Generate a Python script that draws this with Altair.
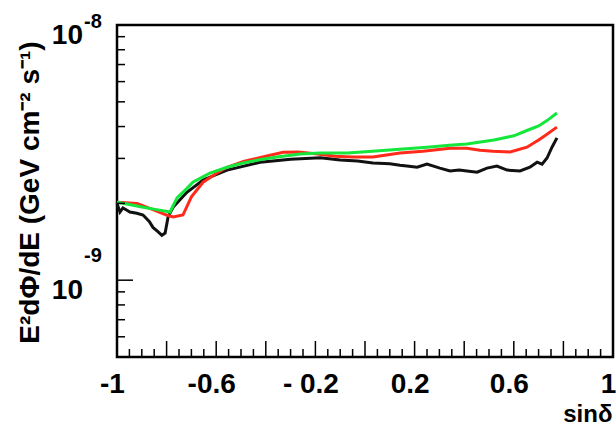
import altair as alt
import pandas as pd

# Sensitivity-style flux curves versus sin(declination).
# Flux values are given in units of 1e-9 GeV cm^-2 s^-1.
FLUX_UNIT = 1e-9

BLACK_S = [-1.0, -0.988, -0.976, -0.96, -0.948, -0.92, -0.895, -0.87, -0.855, -0.835,
           -0.819, -0.806, -0.794, -0.774, -0.718, -0.653, -0.556, -0.423, -0.30, -0.18,
           -0.10, -0.03, 0.032, 0.10, 0.141, 0.169, 0.210, 0.250, 0.302, 0.343,
           0.38, 0.411, 0.452, 0.492, 0.532, 0.573, 0.625, 0.665, 0.694, 0.714,
           0.734, 0.754, 0.774]
BLACK_V = [2.00, 1.85, 1.92, 1.88, 1.85, 1.83, 1.80, 1.70, 1.61, 1.55,
           1.50, 1.53, 1.77, 1.93, 2.21, 2.47, 2.70, 2.90, 2.98, 3.02,
           2.96, 2.93, 2.88, 2.86, 2.82, 2.80, 2.77, 2.85, 2.75, 2.68,
           2.70, 2.68, 2.65, 2.75, 2.80, 2.70, 2.68, 2.77, 2.90, 2.85,
           3.01, 3.32, 3.61]

RED_S = [-1.0, -0.919, -0.86, -0.80, -0.774, -0.734, -0.70, -0.653, -0.597, -0.556,
         -0.49, -0.40, -0.33, -0.27, -0.20, -0.12, -0.05, 0.032, 0.141, 0.234,
         0.343, 0.411, 0.464, 0.516, 0.585, 0.653, 0.70, 0.718, 0.774]
RED_V = [2.02, 2.00, 1.90, 1.80, 1.77, 1.80, 2.12, 2.42, 2.63, 2.77,
         2.92, 3.06, 3.17, 3.18, 3.13, 3.06, 3.04, 3.04, 3.15, 3.20,
         3.29, 3.29, 3.23, 3.20, 3.18, 3.32, 3.54, 3.64, 3.98]

GREEN_S = [-1.0, -0.95, -0.895, -0.84, -0.786, -0.758, -0.72, -0.694, -0.65, -0.625,
           -0.556, -0.492, -0.42, -0.355, -0.26, -0.18, -0.07, 0.03, 0.14, 0.25,
           0.34, 0.41, 0.52, 0.60, 0.653, 0.70, 0.734, 0.774]
GREEN_V = [2.02, 1.98, 1.93, 1.89, 1.85, 2.10, 2.28, 2.42, 2.55, 2.63,
           2.77, 2.88, 2.97, 3.04, 3.12, 3.15, 3.15, 3.20, 3.26, 3.32,
           3.38, 3.42, 3.54, 3.68, 3.86, 4.02, 4.22, 4.52]

# Axis ticks and labels
X_LABEL_VALUES = [-1, -0.6, -0.2, 0.2, 0.6, 1]
X_LABEL_TEXT = ["-1", "-0.6", "- 0.2", "0.2", "0.6", "1"]
X_MAJOR = [-1 + 0.2 * i for i in range(11)]
X_MINOR = [-1 + 0.05 * i for i in range(41) if i % 4 != 0]
Y_MAJOR = [1e-9]
Y_MINOR = [6e-10, 7e-10, 8e-10, 9e-10] + [k * 1e-9 for k in range(2, 10)]
Y_LABEL_VALUES = [1e-9, 1e-8]
Y_LABEL_EXP = ["-9", "-8"]

W, H = 496, 332
FONT = "Liberation Sans"


def curve(s, v):
    return pd.DataFrame({"sindec": s, "flux": [f * FLUX_UNIT for f in v]})


x_scale = alt.Scale(domain=[-1, 1], nice=False, zero=False)
y_scale = alt.Scale(type="log", domain=[5e-10, 1e-8], nice=False)

label_expr = " : ".join(
    f"datum.value == {v} ? '{t}'" for v, t in zip(X_LABEL_VALUES, X_LABEL_TEXT)
) + " : ''"

x_axis = alt.Axis(
    values=X_LABEL_VALUES, labelExpr=label_expr, ticks=False, domain=False, grid=False,
    labelFont=FONT, labelFontSize=28, labelFontWeight="bold", labelColor="black",
    labelPadding=13, labelFlush=False, labelOffset=-5,
    title="sinδ", titleFont=FONT, titleFontSize=24, titleFontWeight="bold",
    titleColor="black", titleAlign="right", titleBaseline="alphabetic",
    titleX=W - 1, titleY=64,
)
y_axis = alt.Axis(
    labels=False, ticks=False, domain=False, grid=False,
    title="E²dΦ/dE (GeV cm⁻² s⁻¹)", titleFont=FONT, titleFontSize=28,
    titleFontWeight="bold", titleColor="black", titleAngle=-90,
    titleAlign="center", titleBaseline="middle", titleX=-87, titleY=167,
)


def X(field):
    return alt.X(field, scale=x_scale, axis=x_axis)


def Y(field):
    return alt.Y(field, scale=y_scale, axis=y_axis)


def line(df, color):
    return alt.Chart(df).mark_line(color=color, strokeWidth=3).encode(
        x=X("sindec:Q"), y=Y("flux:Q")
    )


black = line(curve(BLACK_S, BLACK_V), "#111111")
red = line(curve(RED_S, RED_V), "#ff2a1a")
green = line(curve(GREEN_S, GREEN_V), "#14e63c")


# Inward-pointing ticks along the bottom and left edges of the frame
def xticks(vals, length):
    return alt.Chart(pd.DataFrame({"v": vals})).mark_rule(color="black", strokeWidth=1.5).encode(
        x=X("v:Q"), y=alt.value(H), y2=alt.value(H - length),
    )


def yticks(vals, length):
    return alt.Chart(pd.DataFrame({"v": vals})).mark_rule(color="black", strokeWidth=1.5).encode(
        y=Y("v:Q"), x=alt.value(0), x2=alt.value(length),
    )


ylab = pd.DataFrame({"v": Y_LABEL_VALUES, "exp": Y_LABEL_EXP})
tens = alt.Chart(ylab).mark_text(
    text="10", align="right", baseline="alphabetic", dy=19,
    font=FONT, fontSize=28, fontWeight="bold", color="black",
).encode(y=Y("v:Q"), x=alt.value(-34))


def exponent(value, dy):
    return alt.Chart(ylab).transform_filter(alt.datum.exp == value).mark_text(
        align="left", baseline="alphabetic", dy=dy,
        font=FONT, fontSize=20, fontWeight="bold", color="black",
    ).encode(y=Y("v:Q"), x=alt.value(-33), text="exp:N")


chart = alt.layer(
    black, red, green,
    xticks(X_MAJOR, 16), xticks(X_MINOR, 8),
    yticks(Y_MAJOR, 16), yticks(Y_MINOR, 8),
    tens, exponent("-9", -18), exponent("-8", 3),
).properties(
    width=W, height=H,
    autosize=alt.AutoSizeParams(type="none"),
    padding={"left": 117, "top": 25, "right": 3, "bottom": 71},
    background="white",
).configure_view(stroke="black", strokeWidth=2.5)

chart.save("out.html", embed_options={"renderer": "svg", "actions": False})
